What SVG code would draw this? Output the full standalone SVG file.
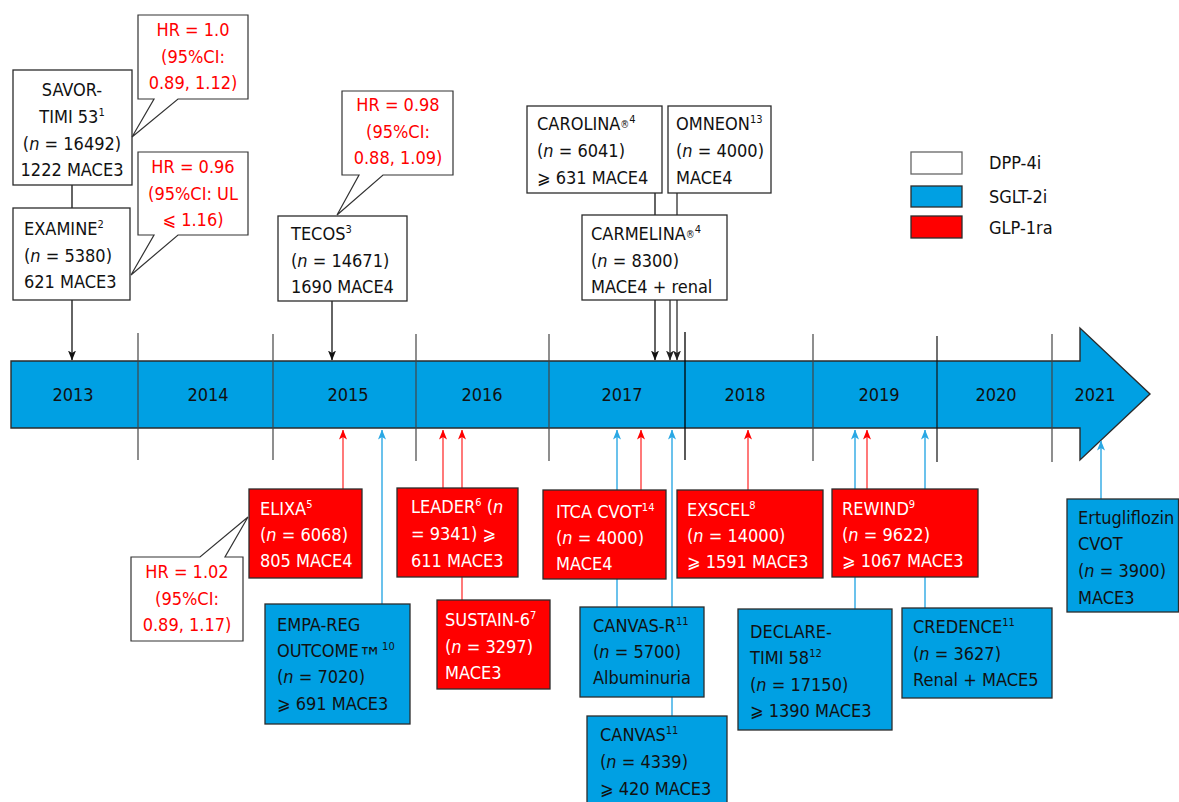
<svg xmlns="http://www.w3.org/2000/svg" width="1179" height="802" viewBox="0 0 1179 802">
<defs>
<style>
.t{font-family:"DejaVu Sans Condensed","DejaVu Sans",sans-serif;font-stretch:semi-condensed;font-size:18px;fill:#111}
.w{fill:#fff}
.r{fill:#ff0000}
.m{text-anchor:middle}
.sup{font-size:11px}
.i{font-style:italic}
.box{stroke:#2b2b2b;stroke-width:1.3}
.dpp{fill:#fff}
.sglt{fill:#00a0e3}
.glp{fill:#ff0000}
.call{fill:#fff;stroke:#333;stroke-width:1.2}
.div{stroke:#444;stroke-width:1.2}
.cb{stroke:#111;stroke-width:1.3;fill:none}
.cg{stroke:#555;stroke-width:1.6;fill:none}
.cr{stroke:#ff2020;stroke-width:1.2;fill:none}
.cbl{stroke:#3aaee6;stroke-width:1.5;fill:none}
</style>
<marker id="ak" viewBox="0 0 10 8" refX="9.5" refY="4" markerWidth="10" markerHeight="8" markerUnits="userSpaceOnUse" orient="auto"><path d="M0,0 L10,4 L0,8 L2.5,4 z" fill="#111"/></marker>
<marker id="ag" viewBox="0 0 10 8" refX="9.5" refY="4" markerWidth="10" markerHeight="8" markerUnits="userSpaceOnUse" orient="auto"><path d="M0,0 L10,4 L0,8 L2.5,4 z" fill="#222"/></marker>
<marker id="ar" viewBox="0 0 10 8" refX="9.5" refY="4" markerWidth="10" markerHeight="8" markerUnits="userSpaceOnUse" orient="auto"><path d="M0,0 L10,4 L0,8 L2.5,4 z" fill="#ff0000"/></marker>
<marker id="ab" viewBox="0 0 10 8" refX="9.5" refY="4" markerWidth="10" markerHeight="8" markerUnits="userSpaceOnUse" orient="auto"><path d="M0,0 L10,4 L0,8 L2.5,4 z" fill="#2aa8e4"/></marker>
</defs>
<rect width="1179" height="802" fill="#fff"/>

<g id="timeline">
<polygon points="11,361 1080,361 1080,328 1150,394 1080,460 1080,428 11,428" fill="#00a0e3" stroke="#2b2b2b" stroke-width="1.4"/>
<line class="div" x1="138" y1="333" x2="138" y2="460"/>
<line class="div" x1="273" y1="334" x2="273" y2="460"/>
<line class="div" x1="416" y1="334" x2="416" y2="461"/>
<line class="div" x1="549" y1="334" x2="549" y2="461"/>
<line x1="685" y1="332" x2="685" y2="460" stroke="#000" stroke-width="1.3"/>
<line class="div" x1="813" y1="334" x2="813" y2="461"/>
<line x1="937" y1="336" x2="937" y2="462" stroke="#111" stroke-width="1.2"/>
<line class="div" x1="1052" y1="334" x2="1052" y2="462"/>
<text class="t m" x="73" y="401">2013</text>
<text class="t m" x="208" y="401">2014</text>
<text class="t m" x="348" y="401">2015</text>
<text class="t m" x="482" y="401">2016</text>
<text class="t m" x="622" y="401">2017</text>
<text class="t m" x="745" y="401">2018</text>
<text class="t m" x="879" y="401">2019</text>
<text class="t m" x="996" y="401">2020</text>
<text class="t m" x="1095" y="401">2021</text>
</g>

<g id="connectors">
<line class="cb" x1="72" y1="185" x2="72" y2="208"/>
<line class="cb" x1="72" y1="300" x2="72" y2="360" marker-end="url(#ak)"/>
<line class="cb" x1="332" y1="301" x2="332" y2="360" marker-end="url(#ak)"/>
<line class="cb" x1="655" y1="193" x2="655" y2="360" marker-end="url(#ak)"/>
<line class="cg" x1="677" y1="193" x2="677" y2="360" marker-end="url(#ag)"/>
<line class="cg" x1="670" y1="300" x2="670" y2="360" marker-end="url(#ag)"/>
<line class="cr" x1="343" y1="489" x2="343" y2="430" marker-end="url(#ar)"/>
<line class="cbl" x1="382" y1="604" x2="382" y2="430" marker-end="url(#ab)"/>
<line class="cr" x1="443" y1="488" x2="443" y2="430" marker-end="url(#ar)"/>
<line class="cr" x1="462" y1="600" x2="462" y2="430" marker-end="url(#ar)"/>
<line class="cbl" x1="617" y1="607" x2="617" y2="430" marker-end="url(#ab)"/>
<line class="cr" x1="641" y1="490" x2="641" y2="430" marker-end="url(#ar)"/>
<line class="cbl" x1="672" y1="716" x2="672" y2="430" marker-end="url(#ab)"/>
<line class="cr" x1="748" y1="490" x2="748" y2="430" marker-end="url(#ar)"/>
<line class="cbl" x1="855" y1="609" x2="855" y2="430" marker-end="url(#ab)"/>
<line class="cr" x1="867" y1="489" x2="867" y2="430" marker-end="url(#ar)"/>
<line class="cbl" x1="925" y1="608" x2="925" y2="430" marker-end="url(#ab)"/>
<line class="cbl" x1="1101" y1="499" x2="1101" y2="441" marker-end="url(#ab)"/>
</g>

<g id="savor">
<rect class="box dpp" x="13" y="70" width="119" height="115"/>
<text class="t m" x="72" y="96">SAVOR-</text>
<text class="t m" x="72" y="123">TIMI 53<tspan class="sup" dy="-7">1</tspan></text>
<text class="t m" x="72" y="150">(<tspan class="i">n</tspan> = 16492)</text>
<text class="t m" x="72" y="176">1222 MACE3</text>
</g>
<g id="hr-savor">
<path class="call" d="M138,15 H248 V99 H178 L132,137 L154,99 H138 Z"/>
<text class="t r m" x="193" y="36">HR = 1.0</text>
<text class="t r m" x="193" y="63">(95%CI:</text>
<text class="t r m" x="193" y="89">0.89, 1.12)</text>
</g>
<g id="examine">
<rect class="box dpp" x="13" y="208" width="117" height="92"/>
<text class="t" x="24" y="235">EXAMINE<tspan class="sup" dy="-7">2</tspan></text>
<text class="t" x="24" y="262">(<tspan class="i">n</tspan> = 5380)</text>
<text class="t" x="24" y="288">621 MACE3</text>
</g>
<g id="hr-examine">
<path class="call" d="M138,152 H248 V235 H178 L131,275 L154,235 H138 Z"/>
<text class="t r m" x="193" y="173">HR = 0.96</text>
<text class="t r m" x="193" y="200">(95%CI: UL</text>
<text class="t r m" x="193" y="226">⩽ 1.16)</text>
</g>
<g id="tecos">
<rect class="box dpp" x="278" y="216" width="129" height="85"/>
<text class="t" x="291" y="240">TECOS<tspan class="sup" dy="-7">3</tspan></text>
<text class="t" x="291" y="267">(<tspan class="i">n</tspan> = 14671)</text>
<text class="t" x="291" y="293">1690 MACE4</text>
</g>
<g id="hr-tecos">
<path class="call" d="M342,91 H453 V175 H383 L337,215 L359,175 H342 Z"/>
<text class="t r m" x="398" y="111">HR = 0.98</text>
<text class="t r m" x="398" y="138">(95%CI:</text>
<text class="t r m" x="398" y="164">0.88, 1.09)</text>
</g>
<g id="carolina">
<rect class="box dpp" x="527" y="106" width="135" height="87"/>
<text class="t" x="537" y="130">CAROLINA<tspan font-size="10px" dy="-2">®</tspan><tspan class="sup" dy="-5">4</tspan></text>
<text class="t" x="537" y="157">(<tspan class="i">n</tspan> = 6041)</text>
<text class="t" x="537" y="184">⩾ 631 MACE4</text>
</g>
<g id="omneon">
<rect class="box dpp" x="668" y="106" width="103" height="87"/>
<text class="t" x="676" y="130">OMNEON<tspan class="sup" dy="-7">13</tspan></text>
<text class="t" x="676" y="157">(<tspan class="i">n</tspan> = 4000)</text>
<text class="t" x="676" y="184">MACE4</text>
</g>
<g id="carmelina">
<rect class="box dpp" x="582" y="215" width="145" height="85"/>
<text class="t" x="591" y="240">CARMELINA<tspan font-size="10px" dy="-2">®</tspan><tspan class="sup" dy="-5">4</tspan></text>
<text class="t" x="591" y="267">(<tspan class="i">n</tspan> = 8300)</text>
<text class="t" x="591" y="293">MACE4 + renal</text>
</g>

<g id="legend">
<rect x="911" y="152" width="51" height="22" fill="#fff" stroke="#666" stroke-width="1.3"/>
<rect class="box sglt" x="911" y="186" width="51" height="21"/>
<rect class="box glp" x="911" y="216" width="51" height="22"/>
<text class="t" x="989" y="169">DPP-4i</text>
<text class="t" x="989" y="203">SGLT-2i</text>
<text class="t" x="989" y="234">GLP-1ra</text>
</g>

<g id="elixa">
<rect class="box glp" x="249" y="489" width="113" height="89"/>
<text class="t w" x="260" y="515">ELIXA<tspan class="sup" dy="-7">5</tspan></text>
<text class="t w" x="260" y="541">(<tspan class="i">n</tspan> = 6068)</text>
<text class="t w" x="260" y="567">805 MACE4</text>
</g>
<g id="hr-elixa">
<path class="call" d="M131,557 H200 L248,517 L225,557 H243 V641 H131 Z"/>
<text class="t r m" x="187" y="578">HR = 1.02</text>
<text class="t r m" x="187" y="605">(95%CI:</text>
<text class="t r m" x="187" y="631">0.89, 1.17)</text>
</g>
<g id="empa">
<rect class="box sglt" x="265" y="604" width="145" height="120"/>
<text class="t" x="277" y="631">EMPA-REG</text>
<text class="t" x="277" y="657">OUTCOME<tspan font-size="26px" dy="9">™</tspan><tspan class="sup" dy="-16">10</tspan></text>
<text class="t" x="277" y="683">(<tspan class="i">n</tspan> = 7020)</text>
<text class="t" x="277" y="710">⩾ 691 MACE3</text>
</g>
<g id="leader">
<rect class="box glp" x="397" y="488" width="121" height="89"/>
<text class="t w" x="411" y="513">LEADER<tspan class="sup" dy="-7">6</tspan><tspan dy="7"> (</tspan><tspan class="i">n</tspan></text>
<text class="t w" x="411" y="540">= 9341) ⩾</text>
<text class="t w" x="411" y="567">611 MACE3</text>
</g>
<g id="sustain">
<rect class="box glp" x="437" y="600" width="113" height="89"/>
<text class="t w" x="445" y="626">SUSTAIN-6<tspan class="sup" dy="-7">7</tspan></text>
<text class="t w" x="445" y="653">(<tspan class="i">n</tspan> = 3297)</text>
<text class="t w" x="445" y="679">MACE3</text>
</g>
<g id="itca">
<rect class="box glp" x="543" y="490" width="123" height="89"/>
<text class="t w" x="556" y="518">ITCA CVOT<tspan class="sup" dy="-7">14</tspan></text>
<text class="t w" x="556" y="544">(<tspan class="i">n</tspan> = 4000)</text>
<text class="t w" x="556" y="570">MACE4</text>
</g>
<g id="canvas-r">
<rect class="box sglt" x="580" y="607" width="124" height="90"/>
<text class="t" x="593" y="632">CANVAS-R<tspan class="sup" dy="-7">11</tspan></text>
<text class="t" x="593" y="658">(<tspan class="i">n</tspan> = 5700)</text>
<text class="t" x="593" y="684">Albuminuria</text>
</g>
<g id="canvas">
<rect class="box sglt" x="587" y="716" width="140" height="92"/>
<text class="t" x="600" y="741">CANVAS<tspan class="sup" dy="-7">11</tspan></text>
<text class="t" x="600" y="768">(<tspan class="i">n</tspan> = 4339)</text>
<text class="t" x="600" y="795">⩾ 420 MACE3</text>
</g>
<g id="exscel">
<rect class="box glp" x="677" y="490" width="146" height="88"/>
<text class="t w" x="687" y="516">EXSCEL<tspan class="sup" dy="-7">8</tspan></text>
<text class="t w" x="687" y="542">(<tspan class="i">n</tspan> = 14000)</text>
<text class="t w" x="687" y="568">⩾ 1591 MACE3</text>
</g>
<g id="rewind">
<rect class="box glp" x="832" y="489" width="146" height="88"/>
<text class="t w" x="842" y="515">REWIND<tspan class="sup" dy="-7">9</tspan></text>
<text class="t w" x="842" y="541">(<tspan class="i">n</tspan> = 9622)</text>
<text class="t w" x="842" y="567">⩾ 1067 MACE3</text>
</g>
<g id="declare">
<rect class="box sglt" x="738" y="609" width="154" height="121"/>
<text class="t" x="750" y="638">DECLARE-</text>
<text class="t" x="750" y="664">TIMI 58<tspan class="sup" dy="-7">12</tspan></text>
<text class="t" x="750" y="691">(<tspan class="i">n</tspan> = 17150)</text>
<text class="t" x="750" y="717">⩾ 1390 MACE3</text>
</g>
<g id="credence">
<rect class="box sglt" x="902" y="608" width="150" height="90"/>
<text class="t" x="913" y="633">CREDENCE<tspan class="sup" dy="-7">11</tspan></text>
<text class="t" x="913" y="660">(<tspan class="i">n</tspan> = 3627)</text>
<text class="t" x="913" y="686">Renal + MACE5</text>
</g>
<g id="ertugliflozin">
<rect class="box sglt" x="1067" y="499" width="111.5" height="113"/>
<text class="t" x="1078" y="524">Ertugliflozin</text>
<text class="t" x="1078" y="550">CVOT</text>
<text class="t" x="1078" y="577">(<tspan class="i">n</tspan> = 3900)</text>
<text class="t" x="1078" y="604">MACE3</text>
</g>
</svg>
